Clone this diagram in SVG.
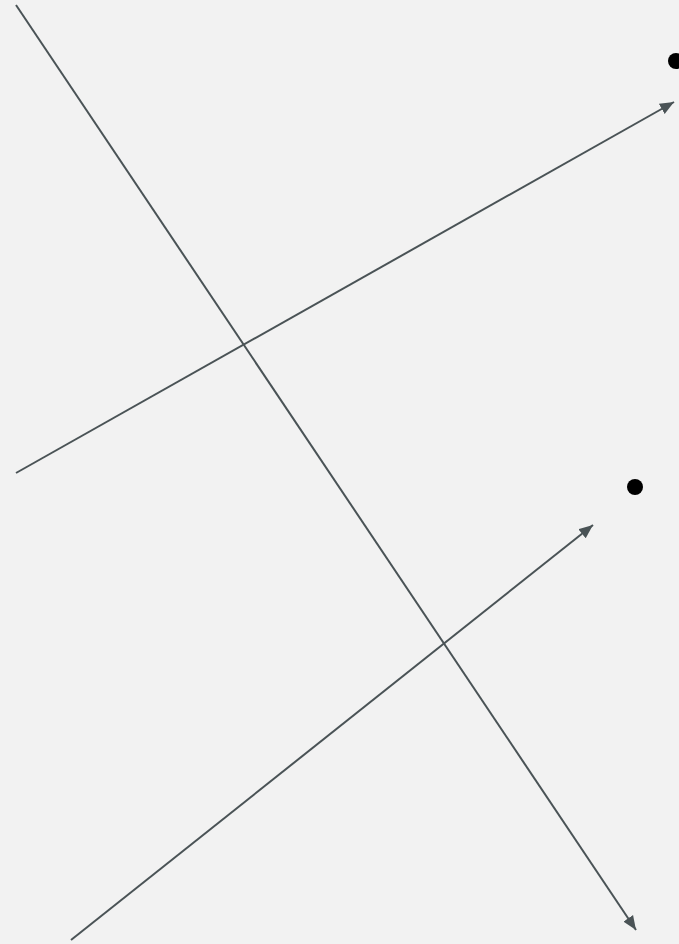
<svg xmlns="http://www.w3.org/2000/svg" width="679" height="944" viewBox="0 0 679 944">
<defs>
<style>
.edge{stroke:#4a5356;stroke-width:2;fill:none}
.dot{fill:#000}
</style>
<marker id="arr" viewBox="0 0 10 10" refX="10" refY="5" markerWidth="7" markerHeight="7" markerUnits="userSpaceOnUse" orient="auto">
<path d="M0,0 L10,5 L0,10 z" fill="#4a5356"/>
</marker>
<marker id="arrow" viewBox="0 0 12 10" refX="12" refY="5" markerWidth="14" markerHeight="12" markerUnits="userSpaceOnUse" orient="auto">
<path d="M0,0 L12,5 L0,10 z" fill="#4a5356"/>
</marker>
</defs>
<rect width="679" height="944" fill="#f2f2f2"/>
<g id="node-a"><circle class="dot" cx="676" cy="61" r="8"/></g>
<g id="node-b"><circle class="dot" cx="635" cy="487" r="8"/></g>
<g id="connectors">
<line class="edge" x1="16" y1="5" x2="636" y2="930" marker-end="url(#arrow)"/>
<line class="edge" x1="16" y1="473" x2="674" y2="102" marker-end="url(#arrow)"/>
<line class="edge" x1="71" y1="940" x2="593" y2="525" marker-end="url(#arrow)"/>
</g>
</svg>
